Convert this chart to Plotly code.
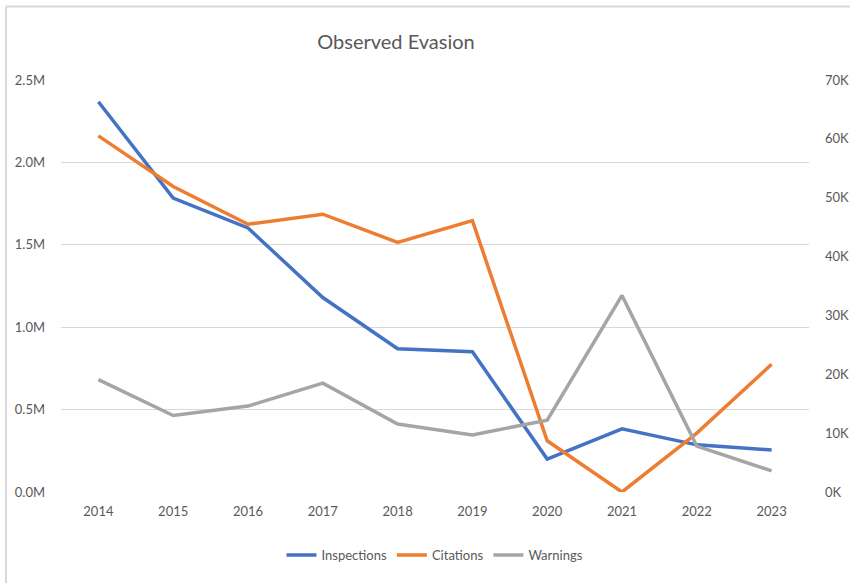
import plotly.graph_objects as go

years = ["2014", "2015", "2016", "2017", "2018", "2019", "2020", "2021", "2022", "2023"]
inspections = [2.368e6, 1.784e6, 1.602e6, 1.180e6, 0.869e6, 0.851e6, 0.200e6, 0.383e6, 0.286e6, 0.255e6]
citations = [60500, 51900, 45500, 47200, 42400, 46100, 8700, 0, 10000, 21700]
warnings = [19100, 13000, 14600, 18500, 11550, 9700, 12200, 33400, 7800, 3600]

left_ticks = [0, 0.5e6, 1.0e6, 1.5e6, 2.0e6, 2.5e6]
left_labels = ["0.0M", "0.5M", "1.0M", "1.5M", "2.0M", "2.5M"]
right_ticks = [0, 10000, 20000, 30000, 40000, 50000, 60000, 70000]
right_labels = ["0K", "10K", "20K", "30K", "40K", "50K", "60K", "70K"]

FONT = "Lato"
TXT = "#595959"

fig = go.Figure()
fig.add_trace(go.Scatter(x=years, y=inspections, name="Inspections", mode="lines",
                         line=dict(color="#4472C4", width=3.5)))
fig.add_trace(go.Scatter(x=years, y=citations, name="Citations", mode="lines", yaxis="y2",
                         line=dict(color="#ED7D31", width=3.5)))
fig.add_trace(go.Scatter(x=years, y=warnings, name="Warnings", mode="lines", yaxis="y2",
                         line=dict(color="#A5A5A5", width=3.5)))

L, R, T, B = 61, 41, 80, 91
W, H = 850, 583
pw, ph = W - L - R, H - T - B

def px(x):
    return (x - L) / pw

def py(y):
    return (H - B - y) / ph

fig.update_layout(
    width=W, height=H,
    margin=dict(l=L, r=R, t=T, b=B, autoexpand=False),
    paper_bgcolor="white", plot_bgcolor="white",
    font=dict(family=FONT, color=TXT, size=13),
    title=dict(text="Observed Evasion", x=px(396), xref="paper", xanchor="center",
               y=1 - 42 / H, yref="container", yanchor="middle",
               font=dict(family=FONT, size=20, color=TXT)),
    xaxis=dict(type="category", range=[-0.5, 9.5], showgrid=False, showline=False,
               zeroline=False, ticks="", ticklabelstandoff=10, automargin=False,
               tickfont=dict(family=FONT, size=13, color=TXT)),
    yaxis=dict(range=[0, 2.5e6], tickvals=left_ticks, ticktext=left_labels,
               showgrid=True, gridcolor="#D9D9D9", gridwidth=1, zeroline=False,
               showline=False, ticks="", ticklabelstandoff=15, automargin=False,
               tickfont=dict(family=FONT, size=13, color=TXT)),
    yaxis2=dict(range=[0, 70000], tickvals=right_ticks, ticktext=right_labels,
                overlaying="y", side="right", showgrid=False, zeroline=False,
                showline=False, ticks="", ticklabelstandoff=15, automargin=False,
                tickfont=dict(family=FONT, size=13, color=TXT)),
    legend=dict(orientation="h", x=0.5, xanchor="center", y=py(555), yanchor="middle",
                font=dict(family=FONT, size=13, color=TXT), itemwidth=30,
                tracegroupgap=0),
    showlegend=True,
)

fig.add_shape(type="line", xref="paper", yref="paper", x0=px(6), x1=px(6), y0=py(6.5), y1=py(583),
              line=dict(color="#D9D9D9", width=2))
fig.add_shape(type="line", xref="paper", yref="paper", x0=px(6), x1=px(850), y0=py(6.5), y1=py(6.5),
              line=dict(color="#D9D9D9", width=2))

fig.write_html("out.html", config={"displayModeBar": False},
               post_script="document.body.style.margin='0';document.body.style.overflow='hidden';")
